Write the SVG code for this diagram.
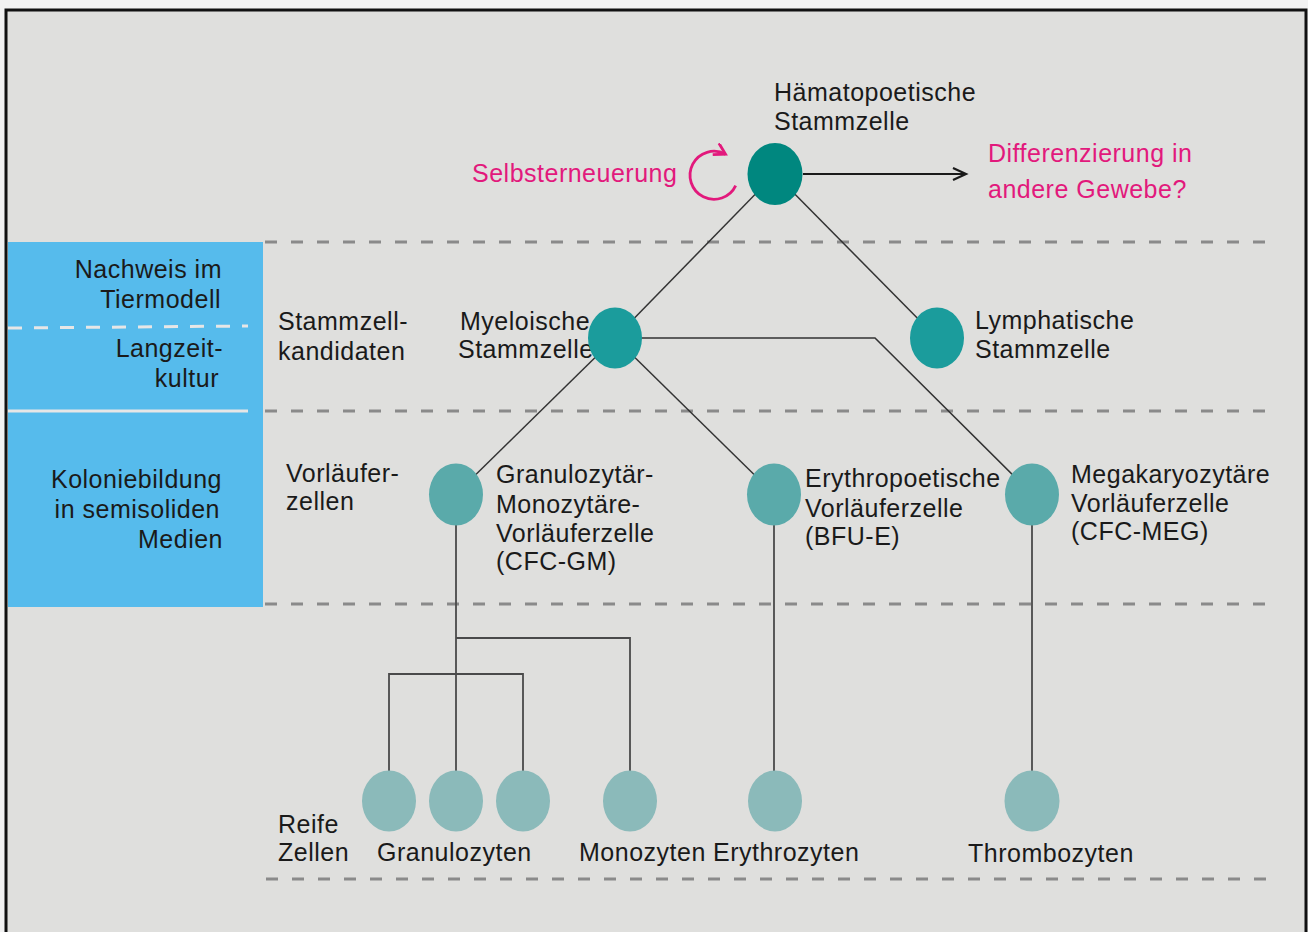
<svg xmlns="http://www.w3.org/2000/svg" width="1308" height="932" viewBox="0 0 1308 932">
<defs>
<style>
text{font-family:"Liberation Sans",Arial,sans-serif;font-size:25px;letter-spacing:0.5px;fill:#1a1a1a}
.pink{fill:#e2197c}
.end{text-anchor:end}
.dash{stroke:#8a8a8a;stroke-width:3;stroke-dasharray:12 14;fill:none}
.ln{stroke:#333;stroke-width:1.5;fill:none}
.vl{stroke:#4a4a4a;stroke-width:1.8;fill:none}
.hsc{fill:#00877f}
.stem{fill:#1b9c9c}
.prog{fill:#5aaaaa}
.mat{fill:#8bbaba}
</style>
<marker id="arrBlack" markerUnits="userSpaceOnUse" markerWidth="20" markerHeight="20" refX="14" refY="7" orient="auto" viewBox="0 0 20 20">
<path d="M1,1 L14,7 L1,13" fill="none" stroke="#1a1a1a" stroke-width="2.2"/>
</marker>
<marker id="arrPink" markerUnits="userSpaceOnUse" markerWidth="20" markerHeight="20" refX="12" refY="7" orient="auto" viewBox="0 0 20 20">
<path d="M1,0.5 L12,7 L1,13.5" fill="none" stroke="#e2197c" stroke-width="2.8"/>
</marker>
</defs>
<rect x="0" y="0" width="1308" height="932" fill="#f2f2f2"/>
<rect x="6" y="10" width="1300" height="935" fill="#dfdfdd" stroke="#111" stroke-width="3"/>

<g id="panel">
<rect x="8" y="242" width="255" height="365" fill="#56bbec"/>
<line x1="8" y1="328" x2="248" y2="326" stroke="#e6e6e6" stroke-width="3" stroke-dasharray="14 12"/>
<line x1="8" y1="411" x2="248" y2="411" stroke="#e6e6e6" stroke-width="3"/>
<text class="end" x="222" y="278">Nachweis im</text>
<text class="end" x="221" y="308">Tiermodell</text>
<text class="end" x="223" y="357">Langzeit-</text>
<text class="end" x="219" y="387">kultur</text>
<text class="end" x="222" y="488">Koloniebildung</text>
<text class="end" x="220" y="518">in semisoliden</text>
<text class="end" x="223" y="548">Medien</text>
</g>

<g id="levels">
<line class="dash" x1="265" y1="242" x2="1273" y2="242"/>
<line class="dash" x1="265" y1="411" x2="1273" y2="411"/>
<line class="dash" x1="265" y1="604" x2="1273" y2="604"/>
<line class="dash" x1="266" y1="879" x2="1273" y2="879"/>
<text x="278" y="330">Stammzell-</text>
<text x="278" y="360">kandidaten</text>
<text x="286" y="482">Vorläufer-</text>
<text x="286" y="510">zellen</text>
<text x="278" y="833">Reife</text>
<text x="278" y="861">Zellen</text>
</g>

<g id="connectors">
<line class="ln" x1="775" y1="174" x2="615" y2="338"/>
<line class="ln" x1="775" y1="174" x2="937" y2="338"/>
<line x1="803" y1="174" x2="966" y2="174" stroke="#1a1a1a" stroke-width="2" marker-end="url(#arrBlack)"/>
<path d="M735.7,185.6 A24,24 0 1 1 725.5,154.2" fill="none" stroke="#e2197c" stroke-width="2.8" marker-end="url(#arrPink)"/>
<line class="ln" x1="615" y1="338" x2="456" y2="494"/>
<line class="ln" x1="615" y1="338" x2="774" y2="494"/>
<polyline class="ln" points="615,338 875,338 1032,494"/>
<line class="vl" x1="456" y1="494" x2="456" y2="801"/>
<polyline class="vl" points="456,638 630,638 630,801"/>
<polyline class="vl" points="389,801 389,674 523,674 523,801"/>
<line class="vl" x1="774" y1="494" x2="774" y2="801"/>
<line class="vl" x1="1032" y1="494" x2="1032" y2="801"/>
</g>

<g id="hsc">
<text x="774" y="101">Hämatopoetische</text>
<text x="774" y="130">Stammzelle</text>
<ellipse class="hsc" cx="775" cy="174" rx="27.5" ry="31"/>
</g>
<g id="selbsterneuerung">
<text class="pink" x="472" y="182">Selbsterneuerung</text>
</g>
<g id="differenzierung">
<text class="pink" x="988" y="162">Differenzierung in</text>
<text class="pink" x="988" y="198">andere Gewebe?</text>
</g>

<g id="myeloid">
<text x="460" y="330" letter-spacing="0.9">Myeloische</text>
<text x="458" y="358">Stammzelle</text>
<ellipse class="stem" cx="615" cy="338" rx="27" ry="30.5"/>
</g>
<g id="lymphoid">
<ellipse class="stem" cx="937" cy="338" rx="27" ry="30.5"/>
<text x="975" y="329">Lymphatische</text>
<text x="975" y="358">Stammzelle</text>
</g>

<g id="cfc-gm">
<ellipse class="prog" cx="456" cy="494.5" rx="27" ry="31"/>
<text x="496" y="483">Granulozytär-</text>
<text x="496" y="513">Monozytäre-</text>
<text x="496" y="542">Vorläuferzelle</text>
<text x="496" y="570">(CFC-GM)</text>
</g>
<g id="bfu-e">
<ellipse class="prog" cx="774" cy="494.5" rx="27" ry="31"/>
<text x="805" y="487">Erythropoetische</text>
<text x="805" y="517">Vorläuferzelle</text>
<text x="805" y="545">(BFU-E)</text>
</g>
<g id="cfc-meg">
<ellipse class="prog" cx="1032" cy="494.5" rx="27" ry="31"/>
<text x="1071" y="483">Megakaryozytäre</text>
<text x="1071" y="512">Vorläuferzelle</text>
<text x="1071" y="540">(CFC-MEG)</text>
</g>

<g id="granulozyten">
<ellipse class="mat" cx="389" cy="801" rx="27" ry="30.5"/>
<ellipse class="mat" cx="456" cy="801" rx="27" ry="30.5"/>
<ellipse class="mat" cx="523" cy="801" rx="27" ry="30.5"/>
<text x="377" y="861">Granulozyten</text>
</g>
<g id="monozyten">
<ellipse class="mat" cx="630" cy="801" rx="27" ry="30.5"/>
<text x="579" y="861">Monozyten</text>
</g>
<g id="erythrozyten">
<ellipse class="mat" cx="775" cy="801" rx="27" ry="30.5"/>
<text x="713" y="861">Erythrozyten</text>
</g>
<g id="thrombozyten">
<ellipse class="mat" cx="1032" cy="801" rx="27.5" ry="30.5"/>
<text x="968" y="862">Thrombozyten</text>
</g>
</svg>
